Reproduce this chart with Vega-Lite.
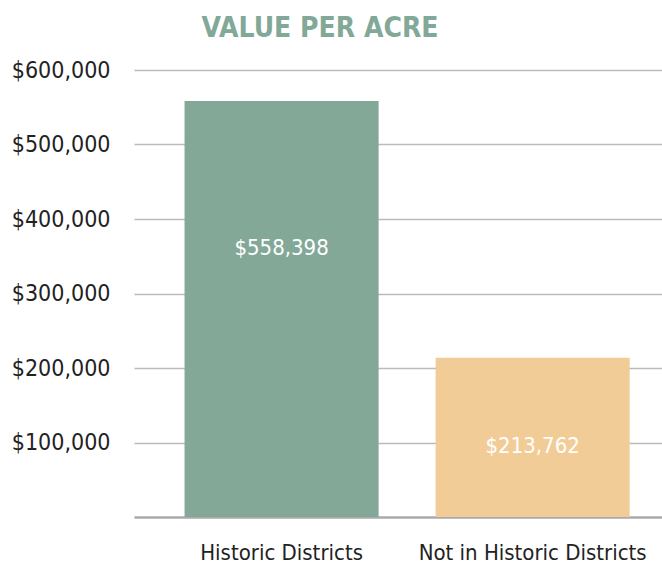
{
  "$schema": "https://vega.github.io/schema/vega-lite/v6.json",
  "width": 528,
  "height": 447,
  "autosize": {"type": "none"},
  "padding": {"left": 134, "top": 70, "right": 0, "bottom": 54},
  "background": "white",
  "config": {"view": {"stroke": null}, "font": "DejaVu Sans Condensed, Roboto, sans-serif"},
  "title": {
    "text": "VALUE PER ACRE",
    "font": "DejaVu Sans Condensed, Roboto, sans-serif",
    "fontSize": 28,
    "fontWeight": "bold",
    "color": "#82a898",
    "anchor": "middle",
    "frame": "group",
    "dx": -78,
    "offset": 16
  },
  "data": {
    "values": [
      {"category": "Historic Districts", "value": 558398},
      {"category": "Not in Historic Districts", "value": 213762}
    ]
  },
  "encoding": {
    "x": {
      "field": "category",
      "type": "nominal",
      "sort": null,
      "scale": {"paddingInner": 0.227, "paddingOuter": 0.165, "align": 0.61},
      "axis": {
        "title": null,
        "labelAngle": 0,
        "labelFontSize": 22,
        "labelColor": "#222222",
        "labelPadding": 25,
        "labelLimit": 0,
        "ticks": false,
        "domainColor": "#aaaaaa",
        "domainWidth": 2.5
      }
    },
    "y": {
      "field": "value",
      "type": "quantitative",
      "scale": {"domain": [0, 600000], "nice": false},
      "axis": {
        "title": null,
        "values": [100000, 200000, 300000, 400000, 500000, 600000],
        "format": "$,.0f",
        "labelFontSize": 23,
        "labelColor": "#222222",
        "labelPadding": 24,
        "ticks": false,
        "domain": false,
        "gridColor": "#bbbbbb",
        "gridWidth": 1.5
      }
    }
  },
  "layer": [
    {
      "mark": {"type": "bar"},
      "encoding": {
        "color": {
          "field": "category",
          "type": "nominal",
          "scale": {"domain": ["Historic Districts", "Not in Historic Districts"], "range": ["#83a898", "#f2cc97"]},
          "legend": null
        }
      }
    },
    {
      "transform": [{"filter": "datum.category === 'Historic Districts'"}],
      "mark": {"type": "text", "color": "white", "fontSize": 22, "baseline": "middle", "dy": 147},
      "encoding": {"text": {"field": "value", "type": "quantitative", "format": "$,.0f"}}
    },
    {
      "transform": [{"filter": "datum.category === 'Not in Historic Districts'"}],
      "mark": {"type": "text", "color": "white", "fontSize": 22, "baseline": "middle", "dy": 88},
      "encoding": {"text": {"field": "value", "type": "quantitative", "format": "$,.0f"}}
    }
  ]
}
